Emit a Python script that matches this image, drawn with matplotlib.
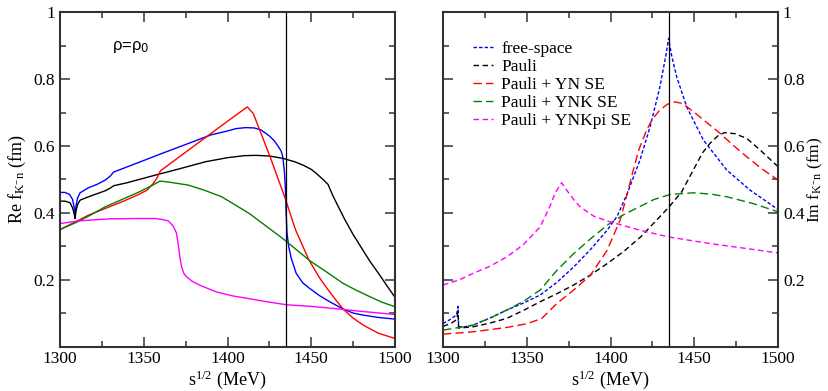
import matplotlib
matplotlib.use('Agg')
import matplotlib.pyplot as plt
from matplotlib.ticker import MultipleLocator, FixedLocator

plt.rcParams['font.family'] = 'Liberation Serif'
plt.rcParams['mathtext.fontset'] = 'custom'
plt.rcParams['mathtext.rm'] = 'Liberation Serif'
plt.rcParams['mathtext.it'] = 'Liberation Serif:italic'

# ---- Re f (left panel, solid lines) ----
re_free_x = [1300, 1303, 1305.7, 1307.5, 1308.5, 1309, 1309.5, 1310.5, 1312, 1317, 1322, 1327, 1330, 1332,
             1345, 1360, 1380, 1390, 1400, 1405, 1411, 1416, 1420, 1425, 1428, 1430.5, 1432, 1433, 1434,
             1434.6, 1435, 1435.5, 1436.5, 1438, 1441, 1445, 1449, 1455, 1461, 1469, 1475, 1481, 1490, 1500]
re_free_y = [0.461, 0.461, 0.455, 0.44, 0.415, 0.393, 0.42, 0.445, 0.46, 0.475, 0.485, 0.498, 0.51, 0.522,
             0.547, 0.576, 0.614, 0.633, 0.645, 0.652, 0.655, 0.654, 0.648, 0.63, 0.615, 0.597, 0.585, 0.568,
             0.52, 0.47, 0.40, 0.34, 0.30, 0.265, 0.219, 0.19, 0.174, 0.152, 0.134, 0.112, 0.10, 0.094, 0.087, 0.082]

re_pauli_x = [1300, 1303, 1306, 1307.5, 1308.5, 1309, 1309.5, 1310.5, 1312, 1317, 1322, 1327, 1330, 1332,
              1340, 1357, 1370, 1387, 1400, 1410, 1417, 1425, 1433, 1440, 1445, 1450, 1453, 1457, 1460,
              1463, 1466, 1470, 1475, 1480, 1485, 1490, 1495, 1500]
re_pauli_y = [0.435, 0.435, 0.43, 0.415, 0.395, 0.383, 0.405, 0.425, 0.438, 0.448, 0.457, 0.466, 0.474, 0.481,
              0.49, 0.513, 0.53, 0.553, 0.565, 0.571, 0.572, 0.570, 0.563, 0.553, 0.543, 0.53, 0.518, 0.50, 0.485,
              0.45, 0.42, 0.38, 0.335, 0.295, 0.255, 0.22, 0.183, 0.147]

re_yn_x = [1300, 1310, 1317, 1327, 1337, 1347, 1352, 1356, 1358, 1360, 1370, 1380, 1390, 1400, 1411.8,
           1415.4, 1425.4, 1434.3, 1440.7, 1448.7, 1455, 1460, 1465, 1469, 1475, 1481, 1490, 1500]
re_yn_y = [0.35, 0.375, 0.393, 0.413, 0.433, 0.455, 0.468, 0.49, 0.505, 0.526, 0.563, 0.60, 0.637, 0.674, 0.717,
           0.697, 0.568, 0.445, 0.348, 0.258, 0.205, 0.17, 0.137, 0.112, 0.085, 0.064, 0.04, 0.024]

re_ynk_x = [1300, 1310, 1317, 1327, 1337, 1347, 1355, 1359.7, 1365, 1376.6, 1386, 1396.5, 1401.5, 1413,
            1421, 1425, 1434.3, 1449.3, 1460, 1469, 1477, 1485, 1492, 1500]
re_ynk_y = [0.35, 0.372, 0.39, 0.418, 0.44, 0.462, 0.482, 0.495, 0.492, 0.483, 0.468, 0.448, 0.433, 0.398,
            0.368, 0.353, 0.318, 0.256, 0.22, 0.189, 0.168, 0.149, 0.133, 0.119]

re_ynkpi_x = [1300, 1310, 1317, 1330, 1345, 1357, 1361, 1364.7, 1367.6, 1369.5, 1370.5, 1371.5, 1372.6, 1374,
              1375.6, 1379, 1383.6, 1393.5, 1403.5, 1413, 1423.4, 1435, 1450, 1463, 1480, 1500]
re_ynkpi_y = [0.368, 0.375, 0.378, 0.382, 0.383, 0.383, 0.38, 0.376, 0.36, 0.34, 0.308, 0.27, 0.238, 0.218,
              0.208, 0.195, 0.183, 0.163, 0.151, 0.143, 0.134, 0.125, 0.12, 0.114, 0.105, 0.096]

# ---- Im f (right panel, dashed lines) ----
im_free_x = [1300, 1304, 1308, 1309, 1309.3, 1312, 1318, 1328, 1338, 1348, 1358, 1368, 1378, 1388, 1398, 1404,
             1410, 1417.6, 1423.6, 1429.5, 1433, 1434.7, 1436.5, 1439.5, 1445.5, 1455.4, 1469.4, 1483.3, 1500]
im_free_y = [0.069, 0.08, 0.094, 0.12, 0.06, 0.058, 0.064, 0.085, 0.109, 0.13, 0.154, 0.192, 0.238, 0.29, 0.348,
             0.39, 0.458, 0.558, 0.657, 0.777, 0.87, 0.922, 0.87, 0.807, 0.717, 0.618, 0.528, 0.468, 0.41]

im_pauli_x = [1300, 1305, 1308, 1309, 1309.3, 1318, 1328, 1338, 1348, 1358, 1368, 1378, 1388, 1398, 1408,
              1418, 1426, 1435, 1442.5, 1449.4, 1455, 1459.4, 1464, 1468, 1474, 1481.3, 1490, 1500]
im_pauli_y = [0.06, 0.07, 0.08, 0.105, 0.055, 0.059, 0.07, 0.084, 0.108, 0.134, 0.158, 0.184, 0.214, 0.248, 0.285,
              0.328, 0.37, 0.418, 0.463, 0.528, 0.58, 0.608, 0.63, 0.64, 0.637, 0.623, 0.585, 0.538]

im_yn_x = [1300, 1318, 1338, 1350, 1359, 1368, 1378, 1388, 1398, 1405.7, 1409, 1413.6, 1417, 1421.6, 1425,
           1429.5, 1434, 1438.5, 1443, 1449.4, 1457, 1465.4, 1473, 1481.3, 1490, 1500]
im_yn_y = [0.037, 0.044, 0.057, 0.068, 0.084, 0.129, 0.169, 0.213, 0.288, 0.378, 0.438, 0.528, 0.59, 0.648, 0.68,
           0.708, 0.725, 0.732, 0.727, 0.703, 0.672, 0.638, 0.603, 0.568, 0.533, 0.498]

im_ynk_x = [1300, 1318, 1328, 1338, 1348, 1358, 1368, 1378, 1388, 1398, 1408, 1418, 1426, 1435.7, 1449.4,
            1460, 1469.4, 1485, 1500]
im_ynk_y = [0.049, 0.064, 0.085, 0.109, 0.135, 0.169, 0.228, 0.278, 0.322, 0.363, 0.395, 0.42, 0.44, 0.455, 0.46,
            0.456, 0.448, 0.428, 0.403]

im_ynkpi_x = [1300, 1310, 1318, 1328, 1338, 1348, 1358, 1363.9, 1367, 1370.8, 1373.8, 1378, 1381.8, 1390,
              1399.7, 1417.6, 1434.5, 1459.4, 1480, 1500]
im_ynkpi_y = [0.184, 0.2, 0.219, 0.24, 0.268, 0.305, 0.358, 0.42, 0.46, 0.49, 0.468, 0.44, 0.418, 0.39,
              0.373, 0.348, 0.328, 0.308, 0.294, 0.28]

labels = ['free-space', 'Pauli', 'Pauli + YN SE', 'Pauli + YNK SE', 'Pauli + YNKpi SE']
colors = ['blue', 'black', 'red', 'green', 'magenta']
dashes = [(2.5, 1.5), (4, 2.5), (6, 3), (6, 3), (4, 2.5)]
threshold = 1435

re_data = [(re_free_x, re_free_y), (re_pauli_x, re_pauli_y), (re_yn_x, re_yn_y),
           (re_ynk_x, re_ynk_y), (re_ynkpi_x, re_ynkpi_y)]
im_data = [(im_free_x, im_free_y), (im_pauli_x, im_pauli_y), (im_yn_x, im_yn_y),
           (im_ynk_x, im_ynk_y), (im_ynkpi_x, im_ynkpi_y)]

fig = plt.figure(figsize=(8.29, 3.91), dpi=100)
ax1 = fig.add_axes([0.0724, 0.1138, 0.4041, 0.8547])
ax2 = fig.add_axes([0.5344, 0.1138, 0.4041, 0.8547])

for (x, y), c in zip(re_data, colors):
    ax1.plot(x, y, color=c, lw=1.0)
for (x, y), c, d, lab in zip(im_data, colors, dashes, labels):
    ax2.plot(x, y, color=c, lw=1.0, dashes=d, label=lab)

for ax in (ax1, ax2):
    ax.axvline(threshold, color='black', lw=0.9)
    ax.set_xlim(1300, 1500)
    ax.set_ylim(0, 1)
    ax.xaxis.set_major_locator(MultipleLocator(50))
    ax.xaxis.set_minor_locator(MultipleLocator(25))
    ax.yaxis.set_major_locator(FixedLocator([0.2, 0.4, 0.6, 0.8, 1.0]))
    ax.yaxis.set_minor_locator(FixedLocator([0.1, 0.3, 0.5, 0.7, 0.9]))
    ax.set_yticklabels(['0.2', '0.4', '0.6', '0.8', '1'])
    ax.tick_params(which='both', direction='in', top=True, right=True, labelsize=12.5, color='#444444')
    ax.tick_params(which='major', length=7, width=1.2)
    ax.tick_params(which='minor', length=4, width=1.2)
    for s in ax.spines.values():
        s.set_linewidth(1.5)
        s.set_color('#333333')
    ax.set_xlabel('s$^{1/2}$ (MeV)', fontsize=13, labelpad=1)

ax1.set_ylabel('Re f$_{\\mathrm{K^{-}n}}$ (fm)', fontsize=13, labelpad=4)
ax1.text(1331, 0.895, 'ρ=ρ$_{\\mathsf{0}}$', fontsize=12, family='Liberation Sans', va='center')

ax2.tick_params(which='both', labelleft=False, labelright=True)
ax2.yaxis.set_label_position('right')
ax2.set_ylabel('Im f$_{\\mathrm{K^{-}n}}$ (fm)', fontsize=12.5, labelpad=1)
ax2.legend(loc='upper left', bbox_to_anchor=(0.052, 0.95), frameon=False, fontsize=12.5,
           handlelength=1.2, handletextpad=0.45, labelspacing=0.1, borderpad=0.2)

plt.savefig('out.png', dpi=100)
